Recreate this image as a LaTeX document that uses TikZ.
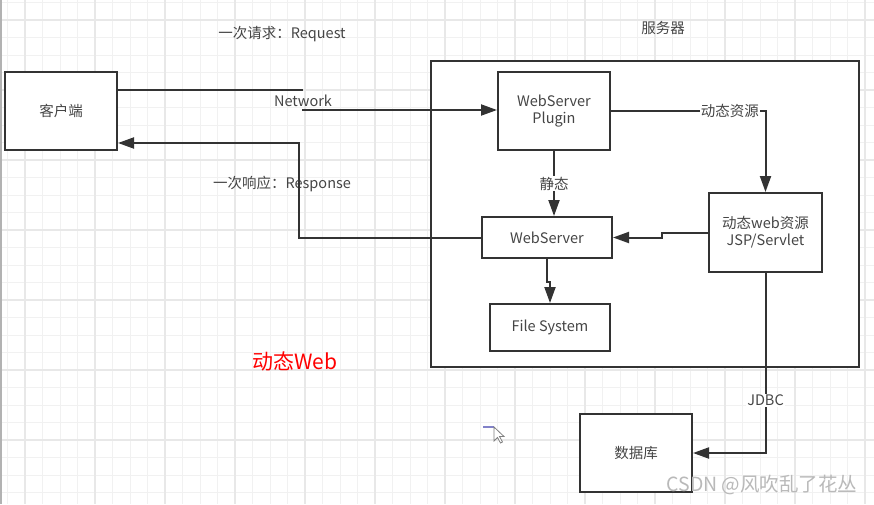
\documentclass[tikz,border=0pt]{standalone}
\usepackage{fontspec}
\setmainfont{Noto Sans CJK SC}
\usetikzlibrary{arrows.meta}
\definecolor{traitgris}{HTML}{333333}
\definecolor{textegris}{HTML}{454545}
\definecolor{grille}{HTML}{F1F1F1}
\definecolor{grillefort}{HTML}{E8E8E8}
\tikzset{
  boite/.style = {draw=traitgris, line width=2pt, fill=white, align=center,
    inner sep=0pt, text=textegris, font=\fontsize{14.5}{17}\selectfont},
  boite_g/.style = {boite, minimum width=112pt, minimum height=78pt},% grande boite
  etiq/.style = {text=textegris, inner sep=1pt,
    font=\fontsize{14.5}{17}\selectfont},
  etiq_f/.style = {etiq, fill=white},% etiquette posee sur le trait
  trait/.style = {draw=traitgris, line width=2pt}
}

\begin{document}
\begin{tikzpicture}[x=1pt, y=-1pt, >={Triangle[length=16pt,width=11pt]}]
    \useasboundingbox (0,0) rectangle (874,504);
    \fill[white] (0,0) rectangle (874,504);
    % grille de fond
    \foreach \i in {0,...,49}
      \draw[grille, line width=1pt] (7.5+17.5*\i,0) -- ++(0,504);
    \foreach \i in {0,...,28}
      \draw[grille, line width=1pt] (0,2.5+17.5*\i) -- ++(874,0);
    \foreach \i in {0,...,12}
      \draw[grillefort, line width=1.5pt] (25+70*\i,0) -- ++(0,504);
    \foreach \i in {0,...,7}
      \draw[grillefort, line width=1.5pt] (0,20+70*\i) -- ++(874,0);
    \draw[gray!60, line width=2pt] (1,0) -- (1,504);

    % boites
    \node [boite, minimum width=428pt, minimum height=306pt] (serveur) at (645,214) {};
    \node [boite_g] (client) at (61,111) {客户端};
    \node [boite_g] (plugin) at (554,111) {WebServer\\Plugin};
    \node [boite, minimum width=130pt, minimum height=41pt] (websrv) at (547,237.5) {WebServer};
    \node [boite, minimum width=113pt, minimum height=79pt] (dynweb) at (765.5,232.5) {动态web资源\\JSP/Servlet};
    \node [boite, minimum width=120pt, minimum height=47pt] (fichiers) at (550,327.5) {File System};
    \node [boite_g] (base) at (636,453) {数据库};

    % etiquettes libres
    \node [etiq] (l_serveur) at (663,28) {服务器};
    \node [etiq] (l_req) at (282,34) {一次请求：Request};
    \node [etiq] (l_resp) at (282,184) {一次响应：Response};
    \node [etiq] (l_net) at (303,101) {Network};
    \node [text=red, inner sep=0pt, font=\fontsize{21}{24}\selectfont] (l_dyn) at (295,361) {动态Web};

    % liaisons
    \coordinate (req_a) at (303,90);
    \coordinate (req_b) at (302,110);
    \coordinate (resp) at (299,143);
    \draw [trait] (client.east |- req_a) -- (req_a);
    \draw [trait, ->] (req_b) -- (plugin.west |- req_b);
    \draw [trait, ->] (websrv.west) -| (resp) -- (client.east |- resp);
    \draw [trait, ->] (plugin.east) -| (dynweb.north)
      node [etiq_f, pos=0.385] {动态资源};
    \draw [trait, ->] (plugin.south) -- (websrv.north -| plugin.south)
      node [etiq_f, midway] {静态};
    \draw [trait, ->] (dynweb.west) -- ++(-46,0) |- (websrv.east);
    \draw [trait, ->] (websrv.south) -- ++(0,23) -| (fichiers.north);
    \draw [trait, ->] (dynweb.south) |- (base.east)
      node [etiq_f, pos=0.353] {JDBC};

    % curseur
    \draw [blue!40!gray!70, line width=1.5pt] (483,427) -- (494,427);
    \draw [gray, fill=white, line width=0.8pt] (494,427) -- (494,441) -- (497.5,437.5)
      -- (500.5,443) -- (502.5,442) -- (499.5,436.5) -- (504,436.5) -- cycle;

    % filigrane
    \node [text=gray!55, inner sep=0pt, font=\fontsize{19.5}{22}\selectfont] (filigrane) at (762,485) {CSDN @风吹乱了花丛};
\end{tikzpicture}
\end{document}
